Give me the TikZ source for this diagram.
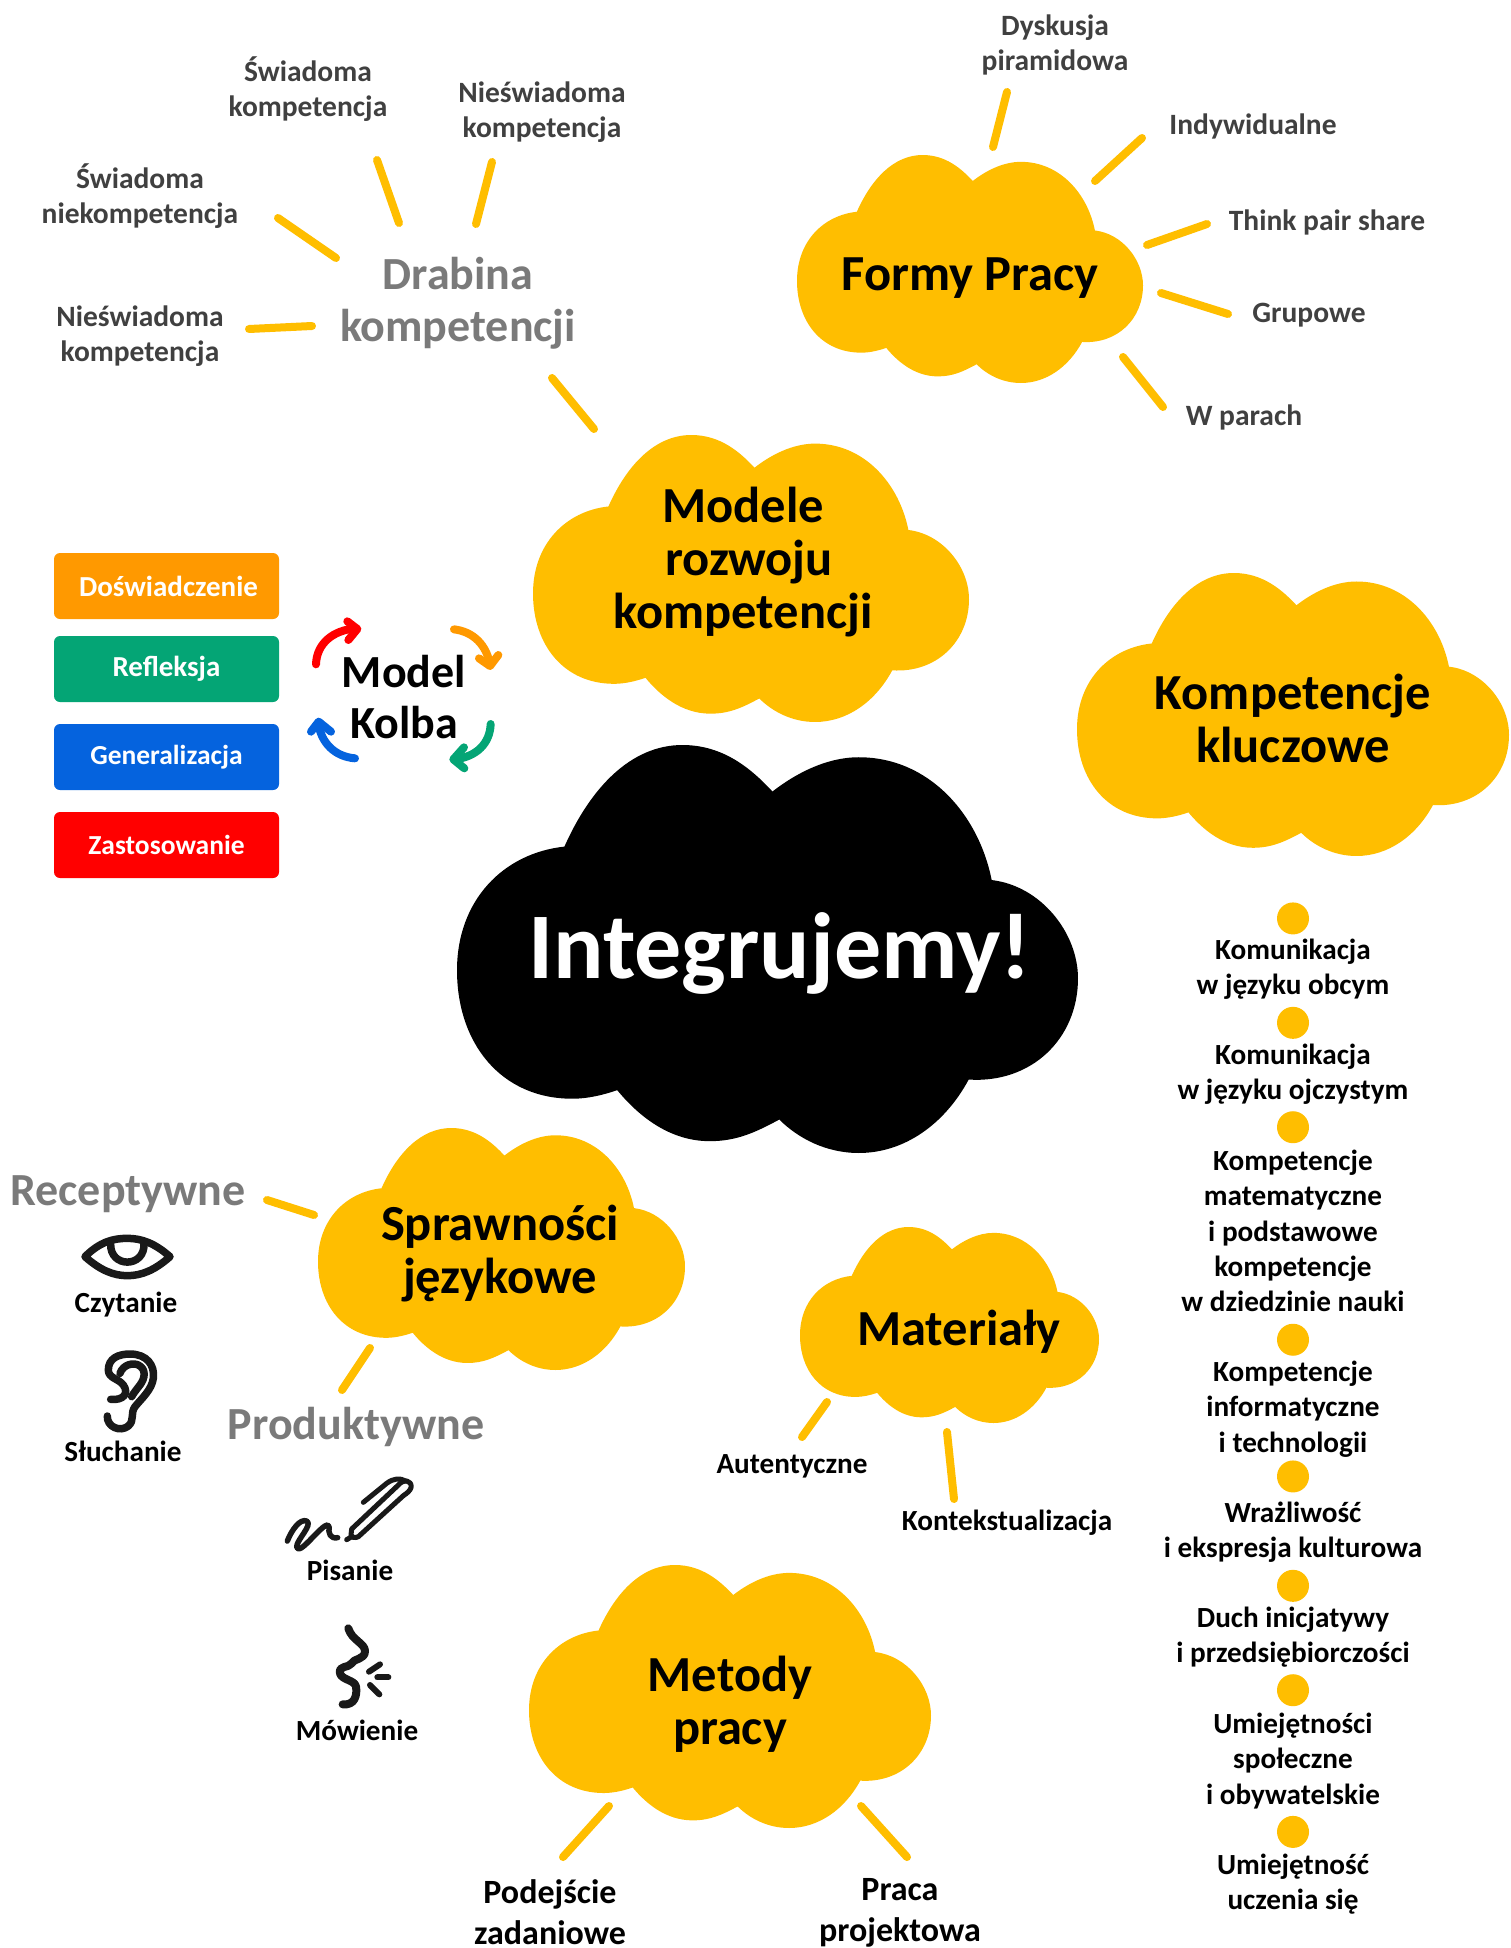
\documentclass[tikz,border=0pt]{standalone}
\usepackage{fontspec}
\setmainfont{Carlito}
\definecolor{gold}{HTML}{FFBE00}
\definecolor{kgrey}{HTML}{7A7A7A}
\definecolor{dgrey}{HTML}{404040}
\definecolor{korange}{HTML}{FF9900}
\definecolor{kgreen}{HTML}{04A575}
\definecolor{kblue}{HTML}{0563DE}
\definecolor{kred}{HTML}{FF0000}
\tikzset{
  x=1pt,y=-1pt,
  foot lbl/.style={inner sep=0pt,align=center,font=\bfseries\fontsize{34}{40.5}\selectfont},
  huge lbl/.style={inner sep=0pt,align=center,text=white,font=\bfseries\fontsize{94}{120}\selectfont},
  head lbl/.style={inner sep=0pt,align=center,font=\bfseries\fontsize{50.5}{53}\selectfont},
  kolb lbl/.style={inner sep=0pt,align=center,font=\bfseries\fontsize{46}{51}\selectfont},
  grey lbl/.style={inner sep=0pt,align=center,text=kgrey,font=\bfseries\fontsize{46}{52}\selectfont},
  small dark/.style={inner sep=0pt,align=center,text=dgrey,font=\bfseries\fontsize{29.5}{35}\selectfont},
  small blk/.style={inner sep=0pt,align=center,text=black,font=\bfseries\fontsize{29.2}{35.3}\selectfont},
  box lbl/.style={inner sep=0pt,align=center,text=white,font=\bfseries\fontsize{29}{32}\selectfont},
  box lbl small/.style={inner sep=0pt,align=center,text=white,font=\bfseries\fontsize{27.5}{32}\selectfont},
  rayline/.style={draw=gold,line width=8pt,line cap=round},
  iconline/.style={draw=black!90,line cap=round,line join=round},
  kolbline/.style={line width=8pt,line cap=round,line join=round},
  colbox/.style={rounded corners=6pt},
  dotmark/.style={fill=gold},
}
\newcommand{\cloudshape}[6]{%
  \pgfmathsetmacro{\cw}{(#4-#2)/1000}\pgfmathsetmacro{\ch}{(#5-#3)/1000}%
  \begin{scope}[shift={(#2,#3)},xscale=\cw,yscale=\ch]
  \coordinate (#1) at (500,500);
  \fill[#6] (173,249) .. controls (215,105) and (280,0) .. (363,0)
   .. controls (430,0) and (475,60) .. (508,114)
   .. controls (545,70) and (595,30) .. (647,30)
   .. controls (760,30) and (840,170) .. (861,331)
   .. controls (940,345) and (1000,460) .. (1000,572)
   .. controls (1000,720) and (925,830) .. (824,820)
   .. controls (785,930) and (720,1000) .. (647,1000)
   .. controls (595,1000) and (550,965) .. (519,918)
   .. controls (480,950) and (450,971) .. (407,971)
   .. controls (340,971) and (290,905) .. (258,846)
   .. controls (235,858) and (210,867) .. (186,867)
   .. controls (70,867) and (0,730) .. (0,552)
   .. controls (0,380) and (75,265) .. (173,249) -- cycle;
  \end{scope}}
\newcommand{\rayseg}[5]{%
  \coordinate (#1a) at (#2,#3); \coordinate (#1b) at (#4,#5);
  \draw[rayline] (#1a) -- (#1b);}
\begin{document}
\begin{tikzpicture}
\useasboundingbox (0,0) rectangle (1510,1948);
\clip (0,0) rectangle (1510,1948);
\fill[white] (0,0) rectangle (1510,1948);
% clouds
\cloudshape{cFormy}{797}{155}{1143}{383}{gold}
\cloudshape{cModele}{533}{435}{969}{722}{gold}
\cloudshape{cKomp}{1077}{573}{1509}{856}{gold}
\cloudshape{cMain}{457}{745}{1078}{1153}{black}
\cloudshape{cSpraw}{318}{1128}{685}{1370}{gold}
\cloudshape{cMat}{800}{1227}{1099}{1423}{gold}
\cloudshape{cMet}{529}{1565}{931}{1828}{gold}
% cloud titles
\node[huge lbl] (tMain) at (780,953) {Integrujemy!};
\node[head lbl] (tFormy) at (970,278) {Formy Pracy};
\node[head lbl] (tModele) at (743,562) {Modele\\\hspace{12pt}rozwoju\\kompetencji};
\node[head lbl] (tKomp) at (1293,718) {Kompetencje\\kluczowe};
\node[head lbl] (tSpraw) at (500,1254) {Sprawności\\językowe};
\node[head lbl] (tMat) at (959,1332) {Materiały};
\node[head lbl] (tMet) at (730,1704) {Metody\\pracy};
\node[grey lbl] (tDrab) at (458,303) {Drabina\\kompetencji};
\node[kolb lbl] (tKolb) at (404,697) {Model\\Kolba};
\node[grey lbl] (tRec) at (128,1194) {Receptywne};
\node[grey lbl] (tProd) at (356,1427) {Produktywne};
% top labels
\node[small dark] (a1) at (1055,45) {Dyskusja\\piramidowa};
\node[small dark] (a2) at (1253,126) {Indywidualne};
\node[small dark] (a3) at (1327,222) {Think pair share};
\node[small dark] (a4) at (1309,315) {Grupowe};
\node[small dark] (a5) at (1244,417) {W parach};
\node[small dark] (b1) at (308,89) {Świadoma\\kompetencja};
\node[small dark] (b2) at (542,112) {Nieświadoma\\kompetencja};
\node[small dark] (b3) at (140,196) {Świadoma\\niekompetencja};
\node[small dark] (b4) at (140,336) {Nieświadoma\\kompetencja};
% right column
\foreach \dy/\dn in {739/1,823/2,907/3,1078/4,1188/5,1276/6,1360/7,1474/8}
  \fill[dotmark] (1293,1.2428*\dy) circle (16);
\node[small blk] (k1) at (1293,969) {Komunikacja\\w języku obcym};
\node[small blk] (k2) at (1293,1074) {Komunikacja\\w języku ojczystym};
\node[small blk] (k3) at (1293,1231) {Kompetencje\\matematyczne\\i podstawowe\\kompetencje\\w dziedzinie nauki};
\node[small blk] (k4) at (1293,1409) {Kompetencje\\informatyczne\\i technologii};
\node[small blk] (k5) at (1293,1532) {Wrażliwość\\i ekspresja kulturowa};
\node[small blk] (k6) at (1293,1637) {Duch inicjatywy\\i przedsiębiorczości};
\node[small blk] (k7) at (1293,1761) {Umiejętności\\społeczne\\i obywatelskie};
\node[small blk] (k8) at (1293,1884) {Umiejętność\\uczenia się};
% lower labels
\node[small blk] (s1) at (126,1305) {Czytanie};
\node[small blk] (s2) at (123,1451) {Słuchanie};
\node[small blk] (s3) at (350,1570) {Pisanie};
\node[small blk] (s4) at (357,1730) {Mówienie};
\node[small blk] (m1) at (792,1466) {Autentyczne};
\node[small blk] (m2) at (1007,1523) {Kontekstualizacja};
\node[foot lbl] (p1) at (550,1912) {Podejście\\zadaniowe};
\node[foot lbl] (p2) at (900,1913) {Praca\\projektowa};
% Kolb boxes
\node[colbox,fill=korange,minimum width=225pt,minimum height=66pt,box lbl] (q1) at (166.5,586) {\hspace{4pt}Doświadczenie};
\node[colbox,fill=kgreen,minimum width=225pt,minimum height=66pt,box lbl] (q2) at (166.5,669) {Refleksja};
\node[colbox,fill=kblue,minimum width=225pt,minimum height=66pt,box lbl small] (q3) at (166.5,757) {Generalizacja};
\node[colbox,fill=kred,minimum width=225pt,minimum height=66pt,box lbl small] (q4) at (166.5,845) {Zastosowanie};
% rays
\rayseg{r1}{993}{147}{1007}{92}
\rayseg{r2}{1095}{181}{1142}{138}
\rayseg{r3}{1147}{245}{1207}{224}
\rayseg{r4}{1161}{293}{1228}{314}
\rayseg{r5}{1123}{357}{1163}{407}
\rayseg{r6}{278}{218}{336}{258}
\rayseg{r7}{377}{160}{399}{223}
\rayseg{r8}{492}{162}{476}{224}
\rayseg{r9}{249}{329}{312}{326}
\rayseg{r10}{552}{378}{594}{429}
\rayseg{r11}{267}{1200}{314}{1215}
\rayseg{r12}{370}{1348}{342}{1390}
\rayseg{r13}{827}{1402}{802}{1437}
\rayseg{r14}{947}{1432}{954}{1499}
\rayseg{r15}{609}{1806}{563}{1857}
\rayseg{r16}{861}{1806}{907}{1857}
% Kolb arrows
\begin{scope}[shift={(30,530)},scale=1/3]
\draw[kolbline,kred] (858,403) .. controls (860,340) and (910,300) .. (978,295);
\draw[kolbline,kred] (952,274) -- (982,297) -- (955,330);
\draw[kolbline,korange] (1272,298) .. controls (1330,305) and (1370,345) .. (1380,405);
\draw[kolbline,korange] (1347,385) -- (1380,408) -- (1405,375);
\draw[kolbline,kgreen] (1382,582) .. controls (1380,640) and (1340,680) .. (1275,688);
\draw[kolbline,kgreen] (1302,652) -- (1270,688) -- (1303,715);
\draw[kolbline,kblue] (975,685) .. controls (915,680) and (875,640) .. (865,582);
\draw[kolbline,kblue] (843,605) -- (866,575) -- (903,605);
\end{scope}
% eye
\begin{scope}[shift={(70,1220)},scale=1/3]
\draw[iconline,line width=7.5pt] (45,110) .. controls (90,65) and (130,55) .. (172,55) .. controls (215,55) and (255,70) .. (300,110) .. controls (255,150) and (215,167) .. (172,167) .. controls (130,167) and (90,150) .. (45,110) -- cycle;
\draw[iconline,line width=7.5pt] (122,70) .. controls (118,145) and (226,145) .. (222,70);
\end{scope}
% ear
\begin{scope}[shift={(90,1340)},scale=1/3]
\draw[iconline,line width=7.5pt] (62,178) .. controls (100,182) and (118,160) .. (100,135) .. controls (85,115) and (55,115) .. (55,90) .. controls (55,55) and (85,42) .. (120,42) .. controls (170,42) and (195,75) .. (190,115) .. controls (185,150) and (155,175) .. (135,200) .. controls (120,220) and (135,240) .. (115,258) .. controls (90,278) and (50,260) .. (52,228);
\draw[iconline,line width=7.5pt] (90,100) .. controls (100,72) and (130,68) .. (145,75) .. controls (170,88) and (165,115) .. (150,135) .. controls (140,148) and (130,160) .. (125,170);
\end{scope}
% pen
\begin{scope}[shift={(275,1465)},scale=1/3]
\draw[iconline,line width=5pt] (230,192) -- (368,62) .. controls (385,40) and (412,45) .. (408,68) .. controls (405,78) and (395,85) .. (385,92) -- (250,215) .. controls (240,220) and (230,218) .. (228,210) -- cycle;
\draw[iconline,line width=5pt] (265,112) -- (335,55) .. controls (355,40) and (375,38) .. (392,48);
\draw[iconline,line width=5pt] (215,224) -- (232,214);
\draw[iconline,line width=5.5pt] (37,228) .. controls (50,195) and (75,160) .. (95,168) .. controls (115,178) and (65,225) .. (65,245) .. controls (70,265) and (95,235) .. (125,205) .. controls (140,190) and (160,170) .. (162,185) .. controls (160,205) and (165,222) .. (188,218);
\end{scope}
% face
\begin{scope}[shift={(320,1615)},scale=1/3]
\draw[iconline,line width=8pt] (85,40) .. controls (95,75) and (135,85) .. (135,108) .. controls (135,135) and (100,130) .. (95,145) .. controls (85,160) and (55,150) .. (60,175) .. controls (65,195) and (105,195) .. (108,215) .. controls (112,240) and (105,272) .. (68,268);
\draw[iconline,line width=6pt] (147,170) -- (180,148);
\draw[iconline,line width=6pt] (172,187) -- (205,187);
\draw[iconline,line width=6pt] (150,210) -- (178,238);
\end{scope}
\end{tikzpicture}
\end{document}
